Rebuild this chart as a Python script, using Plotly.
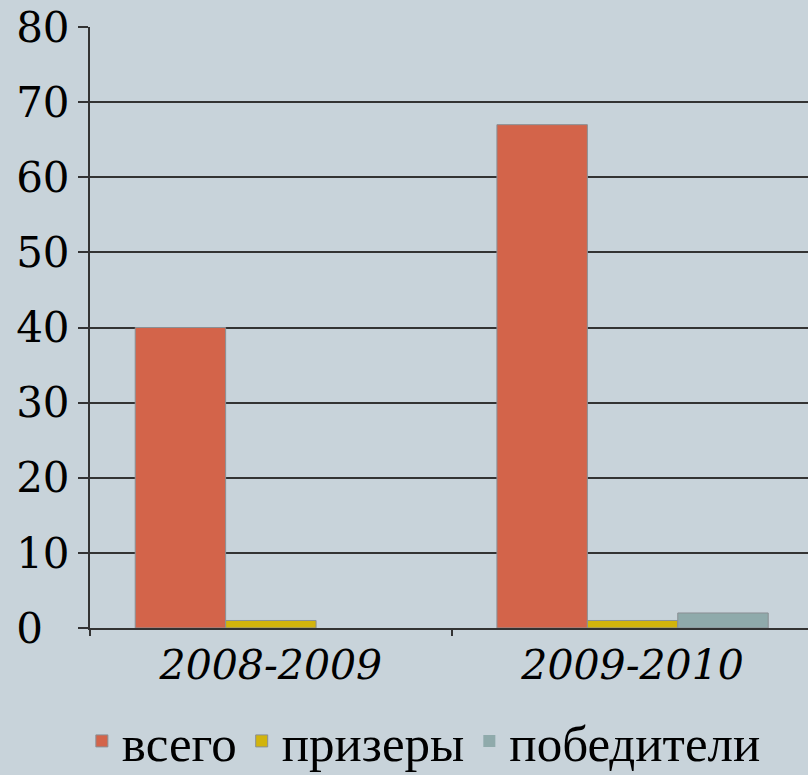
import plotly.graph_objects as go

categories = ["2008-2009", "2009-2010"]
vsego = [40, 67]
prizery = [1, 1]
pobediteli = [0, 2]
series_names = ["всего", "призеры", "победители"]
y_ticks = [0, 10, 20, 30, 40, 50, 60, 70, 80]
y_tick_text = [str(v).ljust(2, "\u2007") for v in y_ticks]

colors = ["#d3644a", "#d2b40c", "#8faaab"]
fig = go.Figure()
for name, vals, col in zip(series_names, [vsego, prizery, pobediteli], colors):
    fig.add_trace(go.Bar(
        x=categories, y=vals, name=name,
        marker=dict(color=col, line=dict(color="#8a8f94",
                                         width=[1 if v > 0 else 0 for v in vals])),
    ))

bg = "#c8d3da"
fig.update_layout(
    width=808, height=775,
    paper_bgcolor=bg, plot_bgcolor=bg,
    barmode="group", bargap=0.25, bargroupgap=0,
    margin=dict(l=90, r=0, t=27, b=147, autoexpand=False),
    font=dict(family="Liberation Serif, serif", color="#000"),
    xaxis=dict(
        range=[-0.5, 1.485], tickson="boundaries",
        ticks="outside", ticklen=6, tickcolor="#333", tickwidth=2,
        showline=True, linecolor="#333", linewidth=2,
        tickfont=dict(family="DejaVu Serif, serif", size=41, style="italic"),
        showgrid=False, automargin=False,
    ),
    yaxis=dict(
        range=[0, 80], tickvals=y_ticks, ticktext=y_tick_text,
        ticks="outside", ticklen=10, tickcolor="#333", tickwidth=2,
        showline=True, linecolor="#333", linewidth=2,
        showgrid=True, gridcolor="#333", gridwidth=2,
        tickfont=dict(family="DejaVu Serif, serif", size=42),
        zeroline=False, automargin=False,
    ),
    legend=dict(
        orientation="h", x=0.465, xanchor="center", y=-0.255, yanchor="bottom",
        font=dict(family="Liberation Serif, serif", size=51),
        itemwidth=30, tracegroupgap=0,
    ),
)
fig.write_html("out.html", config={"displayModeBar": False},
               post_script="document.body.style.margin='0';document.body.style.padding='0';document.body.style.overflow='hidden';")
